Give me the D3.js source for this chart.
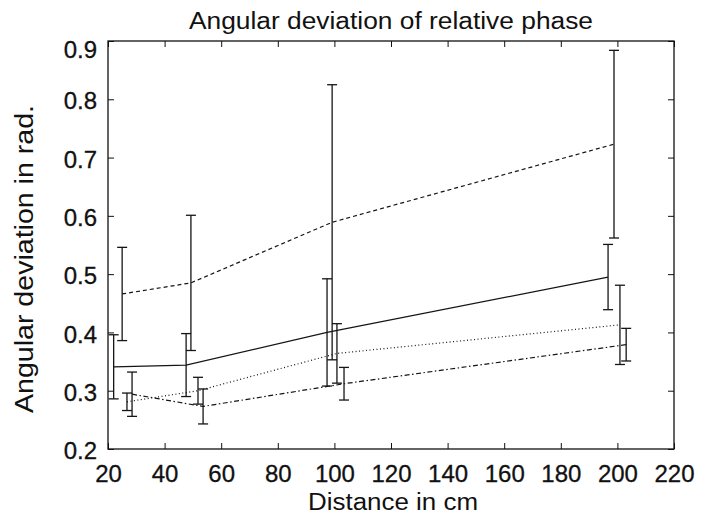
<!DOCTYPE html>
<html>
<head>
<meta charset="utf-8">
<script src="https://cdn.jsdelivr.net/npm/d3@7"></script>
<style>
  body { margin: 0; background: #fff; }
  text { font-family: "Liberation Sans", Arial, Helvetica, sans-serif; fill: #111; }
</style>
</head>
<body>
<div class="chart"></div>
<script>
// distances (cm) as plotted, each series slightly offset
var solidX   = [22, 47.6, 97.4, 196.7];
var dashedX  = [25, 49.3, 99.2, 198.8];
var dottedX  = [26.7, 51.8, 100.9, 200.9];
var dashdotX = [28.5, 53.6, 103.4, 203.1];

// mean angular deviation (rad)
var solidY   = [0.341, 0.344, 0.400, 0.495];
var dashedY  = [0.466, 0.485, 0.589, 0.723];
var dottedY  = [0.281, 0.300, 0.364, 0.413];
var dashdotY = [0.294, 0.273, 0.312, 0.379];

// half length of error bars
var solidE   = [0.055, 0.054, 0.092, 0.056];
var dashedE  = [0.080, 0.116, 0.236, 0.161];
var dottedE  = [0.015, 0.023, 0.051, 0.068];
var dashdotE = [0.038, 0.030, 0.028, 0.028];

var xTicks = [20, 40, 60, 80, 100, 120, 140, 160, 180, 200, 220];
var yTicks = [0.2, 0.3, 0.4, 0.5, 0.6, 0.7, 0.8, 0.9];

var svgWidth = 715;
var svgHeight = 516;

var margin = {
  top: 41,
  right: 41,
  bottom: 67,
  left: 108
};

var width = svgWidth - margin.left - margin.right;
var height = svgHeight - margin.top - margin.bottom;

var svg = d3.select(".chart")
  .append("svg")
  .attr("width", svgWidth)
  .attr("height", svgHeight);

var chartGroup = svg.append("g")
  .attr("transform", `translate(${margin.left}, ${margin.top})`);

var xScale = d3.scaleLinear().domain([20, 220]).range([0, width]);
var yScale = d3.scaleLinear().domain([0.2, 0.9]).range([height, 0]);

// axes, ticks pointing inward on all four sides
chartGroup.append("g")
  .attr("transform", `translate(0, ${height})`)
  .call(d3.axisBottom(xScale).tickValues(xTicks).tickSize(-6).tickPadding(16).tickFormat(d3.format("d")));

chartGroup.append("g")
  .call(d3.axisTop(xScale).tickValues(xTicks).tickSize(-6).tickFormat(""));

var leftAxis = chartGroup.append("g")
  .call(d3.axisLeft(yScale).tickValues(yTicks).tickSize(-6).tickPadding(11).tickFormat(d3.format(".1f")));

chartGroup.append("g")
  .attr("transform", `translate(${width}, 0)`)
  .call(d3.axisLeft(yScale).tickValues(yTicks).tickSize(6).tickFormat(""));

chartGroup.selectAll(".domain").remove();
chartGroup.selectAll(".tick line").attr("stroke", "#111").attr("stroke-width", 1);
chartGroup.selectAll(".tick text")
  .attr("font-size", 24)
  .attr("font-family", "Liberation Sans, Arial, sans-serif")
  .attr("fill", "#111")
  .attr("stroke", "#111")
  .attr("stroke-width", 0.3);
leftAxis.selectAll(".tick text").attr("dy", "0.4em");
leftAxis.selectAll(".tick text").filter(d => d === 0.9).attr("dy", "0.7em");

chartGroup.append("rect")
  .attr("width", width)
  .attr("height", height)
  .attr("fill", "none")
  .attr("stroke", "#111")
  .attr("stroke-width", 1.3);

// series
var series = [
  { x: solidX, y: solidY, e: solidE, dash: null },
  { x: dashedX, y: dashedY, e: dashedE, dash: "4,3" },
  { x: dottedX, y: dottedY, e: dottedE, dash: "1,2.5" },
  { x: dashdotX, y: dashdotY, e: dashdotE, dash: "5,2.5,1.5,2.5" }
];

var line = d3.line()
  .x(d => xScale(d[0]))
  .y(d => yScale(d[1]));

series.forEach(function(s) {
  var pts = s.x.map((xv, i) => [xv, s.y[i], s.e[i]]);

  chartGroup.append("path")
    .datum(pts)
    .attr("d", line)
    .attr("fill", "none")
    .attr("stroke", "#151515")
    .attr("stroke-width", 1.2)
    .attr("stroke-dasharray", s.dash);

  var bars = chartGroup.append("g").selectAll("g")
    .data(pts)
    .enter()
    .append("g")
    .attr("stroke", "#151515")
    .attr("stroke-width", 1.3);

  bars.append("line")
    .attr("x1", d => xScale(d[0]))
    .attr("x2", d => xScale(d[0]))
    .attr("y1", d => yScale(d[1] - d[2]))
    .attr("y2", d => yScale(d[1] + d[2]));

  bars.append("line")
    .attr("x1", d => xScale(d[0]) - 5)
    .attr("x2", d => xScale(d[0]) + 5)
    .attr("y1", d => yScale(d[1] + d[2]))
    .attr("y2", d => yScale(d[1] + d[2]));

  bars.append("line")
    .attr("x1", d => xScale(d[0]) - 5)
    .attr("x2", d => xScale(d[0]) + 5)
    .attr("y1", d => yScale(d[1] - d[2]))
    .attr("y2", d => yScale(d[1] - d[2]));
});

// labels
svg.append("text")
  .attr("x", margin.left + width / 2)
  .attr("y", 29)
  .attr("text-anchor", "middle")
  .attr("font-size", 23)
  .attr("textLength", 404)
  .attr("lengthAdjust", "spacingAndGlyphs")
  .text("Angular deviation of relative phase");

svg.append("text")
  .attr("x", 393)
  .attr("y", 510)
  .attr("text-anchor", "middle")
  .attr("font-size", 23)
  .attr("textLength", 170)
  .attr("lengthAdjust", "spacingAndGlyphs")
  .text("Distance in cm");

svg.append("text")
  .attr("transform", "translate(33, 259) rotate(-90)")
  .attr("text-anchor", "middle")
  .attr("font-size", 25)
  .attr("textLength", 308)
  .attr("lengthAdjust", "spacingAndGlyphs")
  .text("Angular deviation in rad.");
</script>
</body>
</html>
